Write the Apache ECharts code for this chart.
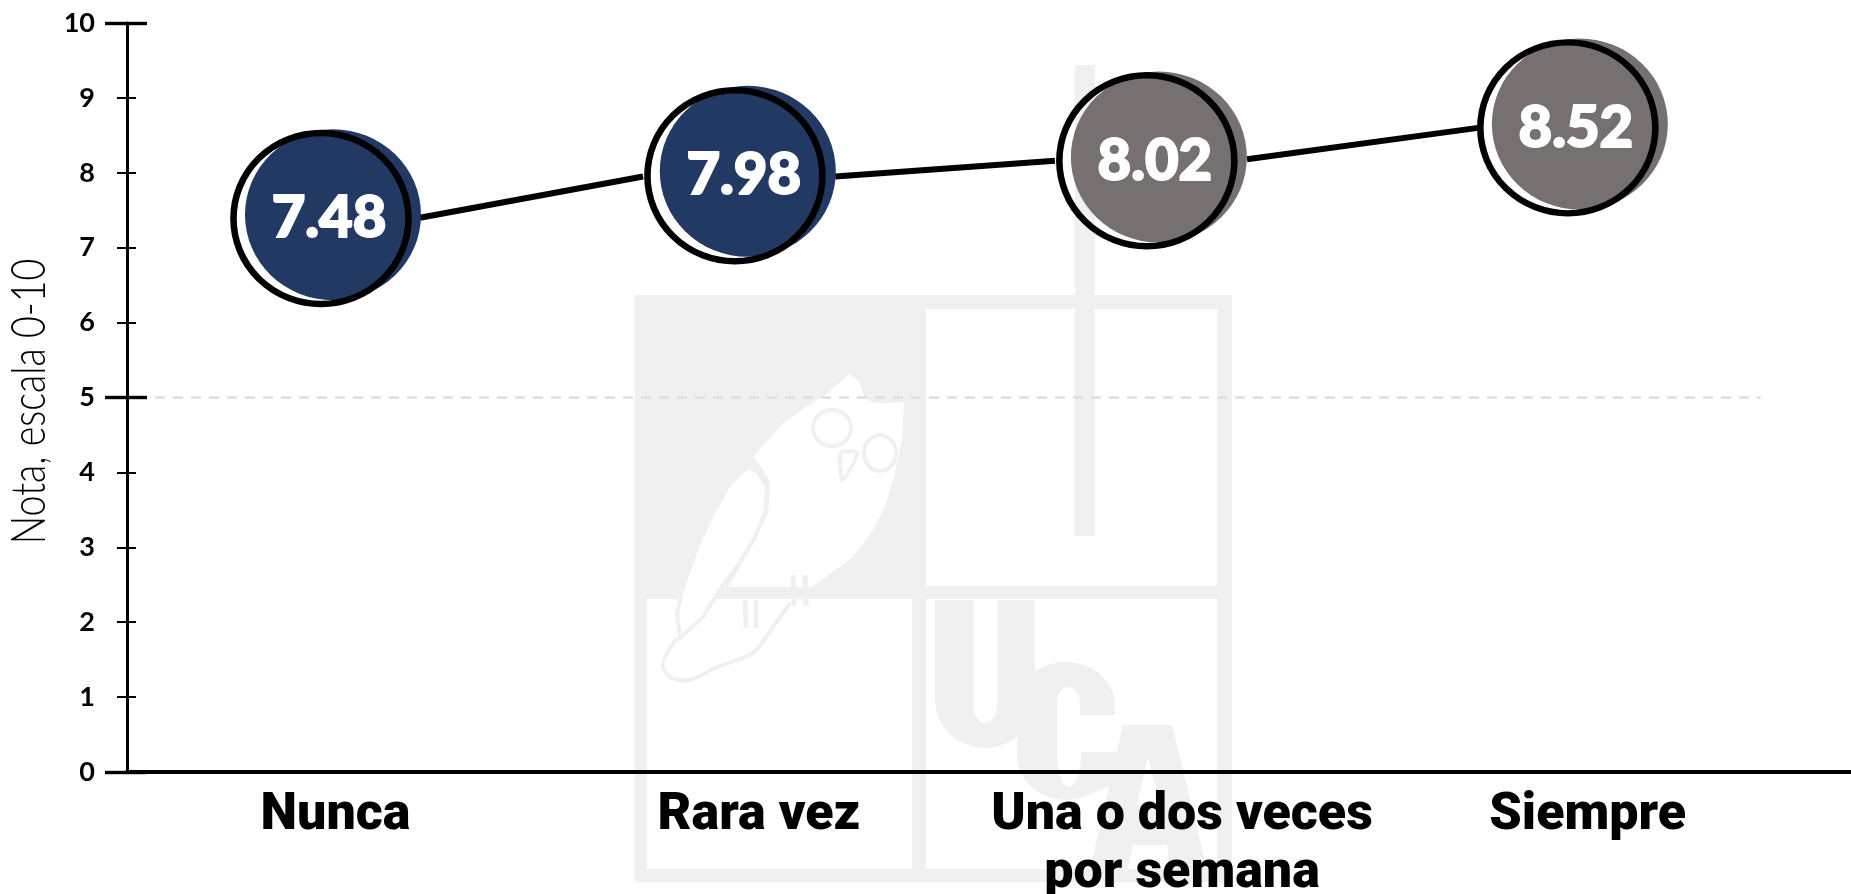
<!DOCTYPE html>
<html>
<head>
<meta charset="utf-8">
<style>html,body{margin:0;padding:0;background:#fff}#c{width:1851px;height:894px}</style>
<script src="https://cdn.jsdelivr.net/npm/echarts@6/dist/echarts.min.js"></script>
</head>
<body>
<div id="c"></div>
<script>
const categories = ['Nunca', 'Rara vez', 'Una o dos veces\npor semana', 'Siempre'];
const categoryPositions = [0.035, 1.058, 2.08, 3.06];
const valueLabels = ['7.48', '7.98', '8.02', '8.52'];
const discX = [0.029, 1.031, 2.024, 3.041];
const discY = [7.44, 8.02, 8.21, 8.65];
const ringX = [0, 1, 1.995, 3.012];
const ringY = [7.39, 7.96, 8.16, 8.60];
const discColors = ['#213963', '#213963', '#767170', '#767170'];
const segmentA = [[0.239, 7.40], [0.778, 7.95]];
const segmentB = [[1.242, 7.95], [1.773, 8.16]];
const segmentC = [[2.237, 8.18], [2.795, 8.60]];
const referenceLine = [[-0.401, 5], [3.478, 5]];
const yTicks = { min: 0, max: 10, step: 1, majorStep: 5 };
const yTitle = 'Nota, escala 0-10';

const ELLIPSE = 'path://M0 -1A1 1 0 1 1 0 1A1 1 0 1 1 0 -1Z';
const GREY = '#f0f0f0';
const poly = (points, fill, edge) => ({
  type: 'polygon', silent: true, z: -10, shape: { points },
  style: { fill, stroke: edge ? GREY : null, lineWidth: edge || 0 }
});
const stroke = (points, w) => ({
  type: 'polyline', silent: true, z: -10, shape: { points, smooth: 0.3 }, style: { fill: null, stroke: GREY, lineWidth: w }
});
const rect = (x, y, w, h, fill) => ({
  type: 'rect', silent: true, z: -10, shape: { x, y, width: w, height: h }, style: { fill }
});
const ell = (cx, cy, rx, ry) => ({
  type: 'ellipse', silent: true, z: -10, shape: { cx, cy, rx, ry },
  style: { fill: null, stroke: GREY, lineWidth: 4 }
});
// sampled elliptical arc for the logo's rounded letters (degrees, clockwise on screen)
const arc = (cx, cy, rx, ry, a0, a1) => {
  const out = [];
  for (let k = 0; k <= 16; k++) {
    const a = (a0 + (a1 - a0) * k / 16) * Math.PI / 180;
    out.push([cx + rx * Math.cos(a), cy + ry * Math.sin(a)]);
  }
  return out;
};
const logo = [
  rect(635, 295, 597, 587, GREY),
  rect(926, 309, 291, 277, '#fff'),
  rect(647, 599, 265, 270, '#fff'),
  rect(926, 599, 291, 270, '#fff'),
  rect(1075, 65, 20, 471, GREY),
  // owl body
  poly([[849,374],[858,380],[865,397],[872,402],[881,403],[904,402],[902,440],[895,472],[885,507],[873,530],[853,557],[812,587],[728,587],[750,550],[768,513],[770,483],[762,468],[753,457],[783,423],[812,403],[828,393]], '#fff'),
  // wing
  poly([[748,467],[758,472],[767,487],[765,513],[755,537],[737,567],[720,590],[703,617],[680,638],[677,613],[683,587],[697,547],[713,513],[730,483]], '#fff', 4),
  // glasses and beak
  ell(832, 428, 19, 18), ell(880, 453, 16, 18),
  stroke([[840,452],[857,453],[842,480],[840,452]], 4),
  // tail outline and feet
  stroke([[677,638],[663,663],[670,677],[690,680],[717,667],[753,653],[773,627],[790,603]], 4),
  stroke([[745,600],[746,628]], 5), stroke([[756,600],[756,628]], 5),
  stroke([[793,575],[794,606]], 5), stroke([[805,575],[806,606]], 5),
  // U
  poly([[935,600],[973,600]].concat(arc(985,705,12,18,180,0),[[997,600],[1035,600]],arc(985,700,50,48,0,180)), GREY),
  // C
  poly(arc(1066,705,49,43,180,360).concat([[1115,715],[1080,715]],arc(1068.5,703,11.5,16,0,-180),arc(1069,755,12,32,180,0),[[1081,752],[1118,752],[1112,785]],arc(1066,755,49,45,60,180)), GREY),
  // A
  poly([[1123,725],[1172,725],[1207,869],[1170,869],[1167,845],[1133,845],[1128,869],[1090,869]], GREY),
  poly([[1148,757],[1137,805],[1160,805]], '#fff')
];
const titleText = {
  type: 'text', silent: true, z: 10, x: 30, y: 401.5, rotation: Math.PI / 2,
  scaleX: 0.8, scaleY: 1,
  style: { text: yTitle, fontFamily: 'Lato', fontWeight: 300, fontSize: 47, fill: '#000', align: 'center', verticalAlign: 'middle' }
};

const mkY = (extra) => Object.assign({
  type: 'value', min: yTicks.min, max: yTicks.max, interval: yTicks.step,
  position: 'left', splitLine: { show: false },
  axisLine: { show: false, onZero: false }, axisLabel: { show: false }
}, extra);

const option = {
  backgroundColor: '#fff',
  animation: false,
  graphic: logo.concat([titleText]),
  grid: { left: 127, right: 0, top: 23, bottom: 122, containLabel: false, outerBoundsMode: 'none' },
  xAxis: {
    type: 'value', min: -0.4686, max: 3.696,
    splitLine: { show: false },
    axisLine: { onZero: false, lineStyle: { color: '#000', width: 4 } },
    axisTick: { show: false },
    axisLabel: {
      customValues: categoryPositions,
      formatter: (v) => categories[categoryPositions.indexOf(v)] || '',
      margin: 15,
      color: '#000', fontFamily: 'Roboto', fontWeight: 900, fontSize: 52, lineHeight: 58,
      align: 'center', verticalAlign: 'top', hideOverlap: false,
      showMinLabel: true, showMaxLabel: true
    }
  },
  yAxis: [
    mkY({
      axisLine: { show: true, onZero: false, lineStyle: { color: '#000', width: 3 } },
      axisTick: { show: true, inside: false, length: 10, lineStyle: { color: '#000', width: 2 } },
      axisLabel: { show: true, margin: 32, color: '#000', fontFamily: 'Lato', fontWeight: 700, fontSize: 27 }
    }),
    mkY({ axisTick: { show: true, inside: true, length: 9, lineStyle: { color: '#000', width: 2 } } }),
    mkY({ interval: yTicks.majorStep, axisTick: { show: true, inside: false, length: 22, lineStyle: { color: '#000', width: 3.4 } } }),
    mkY({ interval: yTicks.majorStep, axisTick: { show: true, inside: true, length: 20, lineStyle: { color: '#000', width: 3.4 } } })
  ],
  series: [
    {
      type: 'line', data: referenceLine, symbol: 'none', z: 1, silent: true,
      lineStyle: { color: '#dedede', width: 2.5, type: [10, 8] }
    },
    ...[segmentA, segmentB, segmentC].map((d) => ({
      type: 'line', data: d, symbol: 'none', z: 3, silent: true,
      lineStyle: { color: '#000', width: 6, cap: 'butt' }
    })),
    {
      type: 'scatter', z: 4, silent: true, symbol: ELLIPSE, symbolSize: [176, 171],
      data: discX.map((x, i) => ({
        value: [x, discY[i]],
        itemStyle: { color: discColors[i], opacity: 1 },
        label: { formatter: valueLabels[i] }
      })),
      label: {
        show: true, position: 'inside', offset: [-4, 4],
        color: '#fff', fontFamily: 'Lato', fontWeight: 900, fontSize: 58,
        textBorderColor: '#fff', textBorderWidth: 2
      }
    },
    {
      type: 'scatter', z: 5, silent: true, symbol: ELLIPSE, symbolSize: [175, 171],
      data: ringX.map((x, i) => [x, ringY[i]]),
      itemStyle: { color: 'rgba(0,0,0,0)', borderColor: '#000', borderWidth: 6.5, opacity: 1 }
    }
  ]
};
const chart = echarts.init(document.getElementById('c'), null, { renderer: 'canvas' });
chart.setOption(option);
</script>
</body>
</html>
